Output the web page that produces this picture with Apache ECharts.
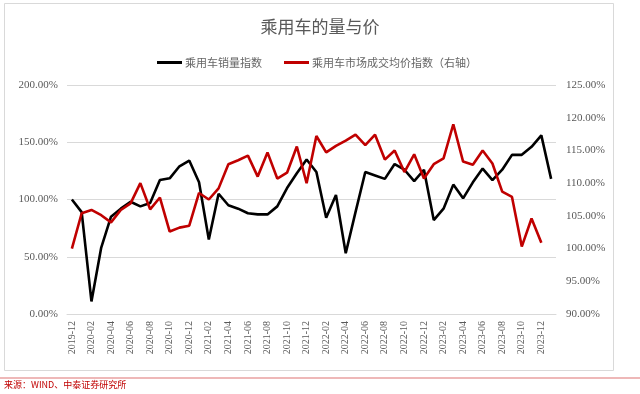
<!DOCTYPE html>
<html>
<head>
<meta charset="utf-8">
<script src="https://cdn.jsdelivr.net/npm/echarts@6/dist/echarts.min.js"></script>
<style>
html,body{margin:0;padding:0;background:#fff;}
#c{width:640px;height:394px;}
</style>
</head>
<body>
<div id="c"></div>
<script>
const months = [];
(function(){
  let y = 2019, m = 12;
  for (let i = 0; i < 50; i++) {
    months.push(y + '-' + (m < 10 ? '0' + m : '' + m));
    m++; if (m > 12) { m = 1; y++; }
  }
})();
const salesIndex = [100, 89, 11, 58, 85, 92, 98, 94, 97, 117, 118.5, 129, 134, 115, 65, 105, 95, 92, 88, 87, 87, 94, 110, 123, 135, 124, 84, 104, 53, 89, 124, 121, 118, 131, 126, 116, 126, 82, 92, 113, 101, 115, 127, 117, 126, 139, 139, 146, 156, 118];
const priceIndex = [100, 105.4, 105.9, 105.1, 104, 105.9, 106.9, 110, 106, 107.8, 102.6, 103.2, 103.5, 108.5, 107.5, 109.2, 112.9, 113.5, 114.2, 111, 114.7, 110.7, 111.6, 115.6, 110, 117.2, 114.7, 115.7, 116.5, 117.4, 115.8, 117.4, 113.6, 115, 111.7, 114.4, 110.7, 112.9, 113.8, 119, 113.3, 112.8, 115, 113, 108.7, 107.9, 100.3, 104.6, 100.9];
const seriesNames = ['乘用车销量指数', '乘用车市场成交均价指数（右轴）'];
const titleText = '乘用车的量与价';
const sourceText = '来源：WIND、中泰证券研究所';

const chart = echarts.init(document.getElementById('c'), null, {renderer: 'canvas'});
const serif = "'Liberation Serif', 'Times New Roman', serif";
const cjk = "'Noto Sans CJK SC', sans-serif";
chart.setOption({
  animation: false,
  backgroundColor: '#fff',
  title: {
    text: titleText, left: 'center', top: 13,
    textStyle: {fontFamily: cjk, fontSize: 17, fontWeight: 'normal', color: '#595959'}
  },
  legend: {
    top: 52, left: 152, itemWidth: 25, itemHeight: 3, itemGap: 22,
    icon: 'rect',
    textStyle: {fontFamily: cjk, fontSize: 11, color: '#666666', padding: [0, 0, 0, -2]},
    data: seriesNames
  },
  grid: {left: 67, right: 84, top: 85, bottom: 80, containLabel: false},
  xAxis: {
    type: 'category', data: months, boundaryGap: true,
    axisLine: {show: true, lineStyle: {color: '#d9d9d9'}},
    axisTick: {show: false},
    axisLabel: {rotate: 90, interval: 1, margin: 7, fontFamily: serif, fontSize: 10, color: '#595959'}
  },
  yAxis: [
    {
      type: 'value', min: 0, max: 200, interval: 50,
      axisLine: {show: false}, axisTick: {show: false},
      splitLine: {lineStyle: {color: '#d9d9d9', width: 1}},
      axisLabel: {formatter: v => v.toFixed(2) + '%', fontFamily: serif, fontSize: 11, color: '#595959', margin: 9}
    },
    {
      type: 'value', min: 90, max: 125, interval: 5, position: 'right',
      axisLine: {show: false}, axisTick: {show: false}, splitLine: {show: false},
      axisLabel: {formatter: v => v.toFixed(2) + '%', fontFamily: serif, fontSize: 11, color: '#595959', margin: 10}
    }
  ],
  series: [
    {
      name: seriesNames[0], type: 'line', data: salesIndex, yAxisIndex: 0,
      symbol: 'none', smooth: false,
      lineStyle: {color: '#000000', width: 2.6}, itemStyle: {color: '#000000'}
    },
    {
      name: seriesNames[1], type: 'line', data: priceIndex, yAxisIndex: 1,
      symbol: 'none', smooth: false,
      lineStyle: {color: '#C00000', width: 2.6}, itemStyle: {color: '#C00000'}
    }
  ],
  graphic: [
    {type: 'rect', shape: {x: 4.5, y: 3.5, width: 609, height: 367}, style: {fill: 'none', stroke: '#d9d9d9', lineWidth: 1}, silent: true},
    {type: 'line', shape: {x1: 0, y1: 378, x2: 640, y2: 378}, style: {stroke: '#e8a0a0', lineWidth: 1.5}, silent: true},
    {type: 'text', left: 4, top: 380, style: {text: sourceText, fill: '#C00000', font: "9px 'Noto Sans CJK SC', sans-serif"}, silent: true}
  ]
});
</script>
</body>
</html>
